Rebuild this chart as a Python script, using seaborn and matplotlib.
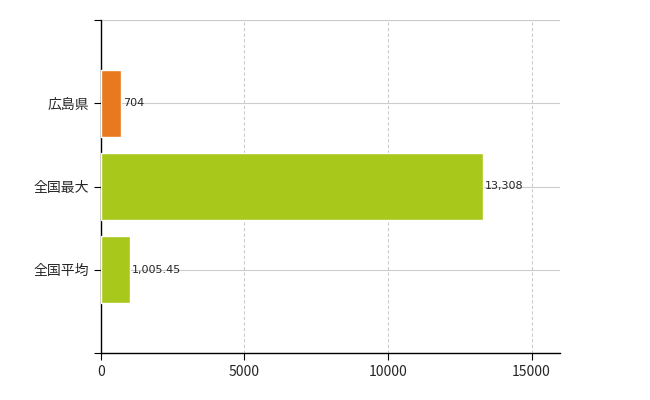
import seaborn as sns
import pandas as pd
import matplotlib
matplotlib.use('Agg')
import matplotlib.pyplot as plt

categories = ['広島県', '全国最大', '全国平均']
values = [704, 13308, 1005.45]
labels = ['704', '13,308', '1,005.45']
colors = ['#E8791E', '#A8C81C', '#A8C81C']

sns.set_style('white')
plt.rcParams['font.family'] = ['Noto Sans CJK JP', 'DejaVu Sans']

df = pd.DataFrame({'name': categories, 'value': values})

fig = plt.figure(figsize=(6.5, 4), dpi=100)
ax = fig.add_axes([0.155, 0.1175, 0.707, 0.8325])
sns.barplot(data=df, x='value', y='name', hue='name', palette=colors,
            width=0.8, legend=False, ax=ax, zorder=3, saturation=1)

ax.set_xlim(0, 16000)
ax.set_ylim(3, -1)
ax.set_xticks([0, 5000, 10000, 15000])
ax.set_xlabel('')
ax.set_ylabel('')
ax.xaxis.grid(True, color='#cccccc', linestyle=(0, (3, 2)), linewidth=0.8, zorder=0)
ax.yaxis.grid(True, color='#cccccc', linestyle='-', linewidth=0.8, zorder=0)
ax.axhline(-1, color='#cccccc', linestyle=(0, (3, 2)), linewidth=0.8, zorder=1)

for s in ['top', 'right']:
    ax.spines[s].set_visible(False)
for s in ['left', 'bottom']:
    ax.spines[s].set_color('black')
    ax.spines[s].set_linewidth(1)
ax.tick_params(axis='both', length=5, color='black', labelsize=10, direction='out')
ax.tick_params(axis='both', which='both', bottom=True, left=True)
ax.set_yticks([-1, 0, 1, 2, 3], ['', *categories, ''])

for i, (v, lab) in enumerate(zip(values, labels)):
    ax.text(v + 60, i, lab, va='center', ha='left', fontsize=8, zorder=4,
            family=['DejaVu Sans'])

fig.savefig('out.png', dpi=100)
